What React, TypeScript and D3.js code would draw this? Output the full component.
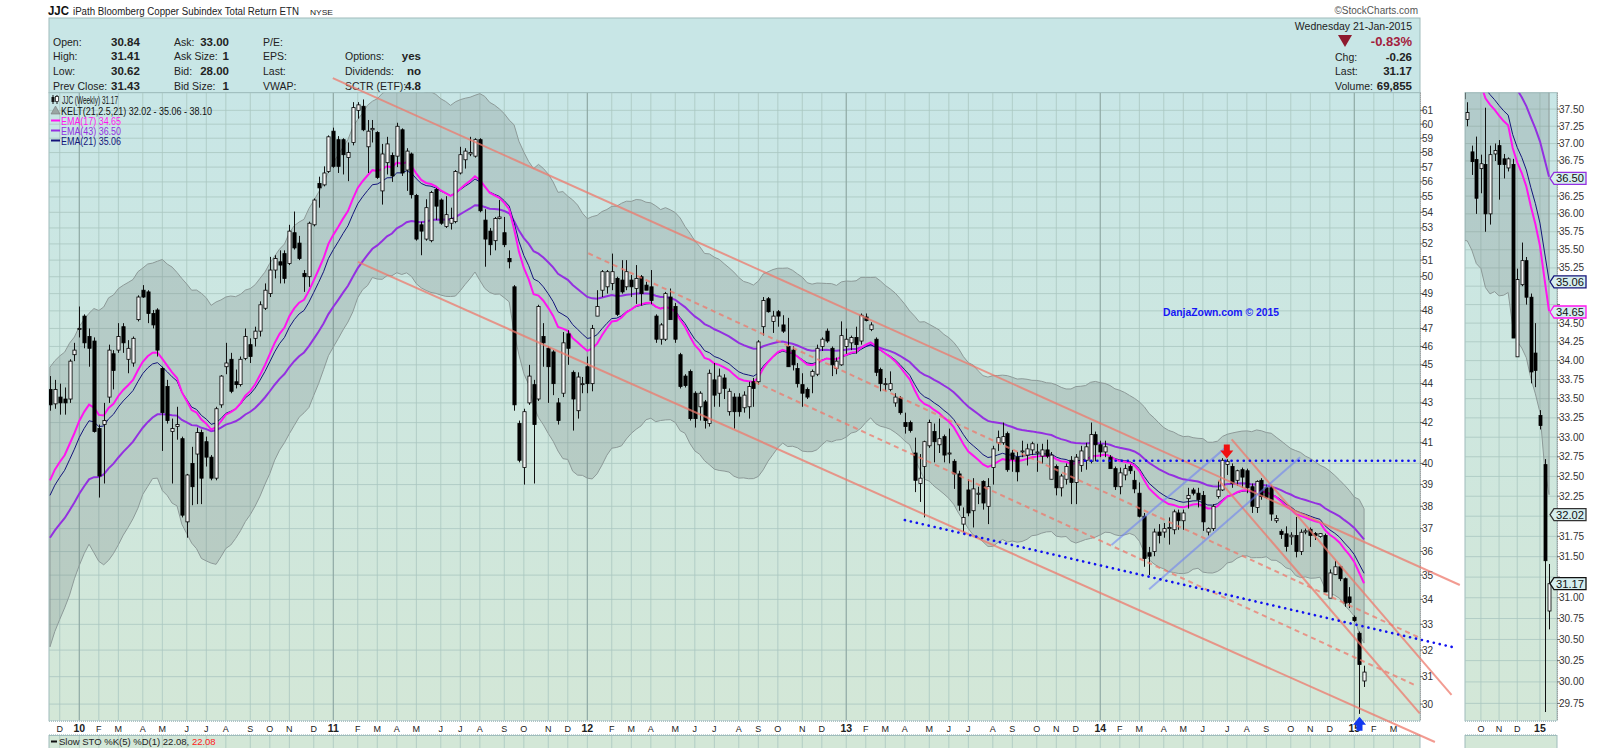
import * as d3 from 'd3';
import React from 'react';

// weekly candles, week of 23-Nov-2009 .. week of 19-Jan-2015
const opens = [
  43.7, 42.95, 43.3, 43.2, 43.2, 45.55, 46.95, 47.7, 46.55, 46.3,
  41.7, 41.9, 43.3, 45.6, 45.8, 47.1, 45.3, 45.1, 47.5, 49.2,
  49.1, 47.85, 48.05, 44.8, 43.85, 41.55, 41.8, 41.2, 37.3, 40.0,
  40.45, 41.5, 41.05, 40.3, 39.3, 42.9, 44.9, 45.3, 44.1, 43.95,
  45.35, 46.1, 46.45, 46.85, 48.15, 49.0, 50.4, 50.9, 51.4, 50.8,
  52.7, 52.05, 50.2, 50.0, 53.2, 55.9, 55.8, 56.7, 59.5, 58.9,
  58.9, 57.65, 58.7, 61.0, 61.3, 58.4, 59.6, 59.4, 55.4, 57.3,
  57.8, 57.75, 59.6, 56.8, 57.9, 55.1, 53.2, 52.3, 52.2, 55.5,
  54.8, 53.1, 53.3, 53.4, 56.6, 57.5, 57.9, 57.75, 58.9, 53.5,
  52.8, 52.2, 53.6, 52.7, 51.1, 49.4, 41.95, 39.8, 43.0, 43.95,
  43.2, 46.55, 45.9, 45.7, 43.0, 43.5, 46.7, 44.6, 42.6, 44.0,
  44.9, 44.0, 47.7, 49.2, 49.4, 49.6, 49.9, 49.8, 49.4, 49.8,
  49.3, 50.0, 49.5, 49.4, 47.7, 46.4, 46.4, 48.8, 48.25, 45.55,
  44.4, 44.65, 43.5, 42.8, 43.05, 41.95, 44.2, 43.5, 44.3, 42.55,
  43.3, 43.3, 42.75, 42.8, 44.1, 44.1, 47.1, 48.7, 47.4, 47.95,
  47.2, 46.0, 45.8, 44.8, 43.95, 43.7, 44.4, 44.5, 46.0, 46.85,
  45.9, 44.8, 45.0, 46.0, 46.2, 46.5, 46.3, 47.65, 46.95, 46.4,
  44.75, 44.0, 43.7, 43.0, 43.25, 42.0, 42.0, 40.5, 39.05, 39.85,
  40.85, 41.55, 40.9, 41.3, 40.5, 40.1, 39.5, 37.2, 38.75, 37.8,
  38.55, 39.15, 38.0, 39.8, 41.0, 41.0, 41.45, 40.5, 40.3, 40.6,
  40.4, 40.65, 40.5, 40.35, 40.65, 39.25, 39.85, 38.85, 39.25, 40.15,
  39.1, 39.9, 40.15, 40.1, 41.4, 40.9, 40.55, 40.3, 39.75, 38.9,
  39.45, 39.85, 39.2, 38.6, 37.55, 35.95, 36.0, 36.85, 36.85, 37.0,
  36.95, 37.7, 37.35, 38.35, 38.75, 38.6, 38.5, 36.85, 37.0, 38.45,
  38.75, 39.95, 39.85, 39.2, 39.7, 39.65, 38.9, 37.95, 39.2, 38.85,
  38.85, 37.35, 36.88, 36.77, 36.64, 36.7, 36.0, 36.85, 36.97, 36.78,
  36.65, 36.7, 34.05, 35.02, 35.35, 34.85, 34.1, 33.28, 32.65, 30.84,
];

const highs = [
  44.4, 44.2, 44.0, 43.8, 45.3, 46.2, 48.25, 47.8, 47.0, 46.5,
  41.9, 43.0, 46.1, 45.8, 47.3, 47.3, 46.35, 46.55, 48.9, 49.5,
  49.2, 48.05, 48.15, 44.9, 44.2, 42.2, 42.8, 41.3, 39.5, 40.8,
  41.75, 41.65, 41.3, 40.4, 42.8, 44.45, 46.2, 45.65, 44.75, 45.45,
  47.0, 46.45, 47.1, 48.55, 49.6, 51.2, 51.3, 51.6, 51.6, 53.2,
  54.05, 52.5, 50.4, 53.4, 54.9, 56.35, 57.05, 59.2, 59.75, 59.15,
  59.0, 58.7, 61.6, 61.6, 61.8, 60.3, 60.3, 59.5, 58.6, 59.1,
  58.0, 60.1, 59.7, 58.3, 58.0, 55.2, 53.4, 54.85, 55.4, 55.6,
  54.9, 55.05, 54.3, 56.8, 58.4, 58.3, 59.1, 59.0, 59.0, 54.2,
  53.0, 53.7, 54.8, 53.7, 51.6, 49.5, 42.1, 42.7, 45.0, 44.2,
  48.35, 47.3, 46.0, 45.8, 43.25, 46.8, 46.9, 44.7, 44.6, 44.35,
  45.45, 47.2, 49.2, 50.4, 50.4, 51.4, 50.0, 51.0, 51.0, 50.1,
  50.7, 50.1, 49.7, 50.4, 47.8, 47.3, 49.1, 49.3, 48.45, 45.65,
  44.5, 44.75, 43.6, 43.6, 43.15, 44.75, 45.1, 44.8, 44.5, 43.75,
  43.5, 43.5, 43.6, 44.1, 44.3, 46.35, 48.8, 48.8, 48.0, 48.05,
  47.75, 47.6, 46.0, 45.1, 44.55, 43.8, 44.75, 46.1, 46.5, 47.0,
  46.0, 45.4, 47.4, 47.0, 46.6, 47.1, 47.85, 47.85, 47.35, 46.5,
  44.85, 44.3, 44.65, 43.5, 43.35, 42.5, 42.1, 41.25, 40.45, 41.1,
  42.15, 41.95, 42.2, 41.4, 41.7, 40.2, 39.65, 37.95, 39.25, 39.3,
  38.9, 39.2, 39.3, 40.85, 41.6, 42.0, 41.55, 40.65, 40.55, 41.1,
  40.95, 41.05, 40.95, 40.95, 41.15, 40.55, 39.95, 39.5, 40.0, 40.35,
  40.45, 40.85, 41.0, 42.0, 41.55, 41.1, 41.1, 40.4, 39.85, 39.8,
  39.95, 39.95, 39.65, 39.1, 37.7, 36.2, 37.0, 37.2, 37.25, 37.5,
  37.85, 37.85, 37.85, 38.85, 38.85, 38.85, 38.7, 37.05, 38.1, 39.15,
  40.25, 40.2, 40.0, 39.7, 39.8, 39.75, 39.05, 39.2, 39.3, 39.0,
  38.95, 37.6, 36.97, 37.1, 36.84, 37.52, 36.97, 37.0, 37.05, 36.85,
  36.8, 36.78, 35.24, 35.6, 35.4, 34.9, 34.5, 33.35, 32.72, 31.41,
];

const lows = [
  42.6, 42.7, 42.4, 42.4, 43.0, 45.2, 46.5, 45.9, 44.9, 41.5,
  38.4, 39.05, 43.0, 43.7, 45.65, 45.65, 44.55, 44.9, 47.4, 48.75,
  47.3, 47.0, 45.45, 40.6, 41.95, 39.05, 41.15, 37.5, 36.6, 38.05,
  38.1, 38.1, 39.85, 39.2, 39.2, 42.75, 44.5, 43.5, 43.75, 43.85,
  45.25, 45.1, 46.0, 46.55, 48.05, 48.8, 49.9, 49.6, 49.6, 50.7,
  51.65, 51.0, 49.1, 49.4, 53.1, 54.3, 55.7, 56.6, 56.95, 56.6,
  56.5, 56.05, 58.5, 60.4, 59.5, 56.6, 58.7, 56.2, 54.5, 56.5,
  56.0, 57.0, 56.4, 55.4, 54.9, 52.2, 51.3, 52.2, 52.1, 53.5,
  53.2, 53.0, 52.9, 53.3, 56.5, 56.9, 57.75, 57.65, 54.0, 50.6,
  51.3, 51.6, 53.55, 51.8, 50.5, 42.6, 40.05, 39.0, 42.9, 39.05,
  43.1, 44.9, 43.0, 43.4, 41.9, 43.3, 45.0, 41.6, 42.2, 43.5,
  43.5, 43.6, 47.7, 48.8, 49.0, 49.2, 47.7, 49.0, 49.2, 48.8,
  48.4, 48.3, 49.2, 48.4, 46.2, 46.1, 46.3, 47.5, 46.2, 43.75,
  43.8, 42.1, 41.75, 42.1, 41.7, 41.8, 42.8, 42.8, 43.2, 42.35,
  41.7, 42.3, 42.5, 42.2, 42.8, 43.95, 46.6, 47.9, 46.75, 47.1,
  46.75, 44.9, 44.7, 43.8, 42.8, 43.2, 43.5, 44.4, 45.75, 46.2,
  44.4, 44.5, 44.95, 45.6, 45.8, 45.6, 46.1, 47.4, 46.85, 44.4,
  43.6, 43.6, 43.6, 42.8, 42.4, 41.45, 41.5, 38.65, 38.2, 37.5,
  40.75, 40.05, 40.5, 40.05, 40.0, 38.8, 37.8, 36.85, 37.55, 37.05,
  38.1, 37.85, 37.2, 39.0, 40.6, 40.9, 39.6, 39.6, 39.15, 40.3,
  39.9, 40.4, 39.6, 40.0, 40.25, 39.25, 38.5, 38.45, 39.0, 38.1,
  38.1, 39.6, 39.7, 40.0, 40.1, 40.3, 40.3, 39.75, 38.75, 38.55,
  39.2, 39.5, 38.6, 37.5, 35.35, 35.0, 35.8, 36.35, 36.6, 36.3,
  36.75, 36.95, 36.95, 37.9, 38.5, 37.95, 36.9, 36.7, 36.9, 38.35,
  38.7, 39.45, 38.85, 38.95, 38.85, 38.6, 37.7, 37.7, 38.3, 38.35,
  37.35, 37.25, 36.55, 36.0, 36.29, 35.75, 35.85, 36.75, 36.2, 36.5,
  36.6, 34.3, 34.05, 35.0, 34.75, 33.7, 33.65, 33.1, 29.65, 30.62,
];

const closes = [
  42.9, 43.7, 43.0, 43.0, 45.2, 45.8, 47.0, 46.2, 45.9, 41.55,
  39.4, 42.1, 45.8, 44.7, 46.55, 46.2, 45.9, 46.45, 48.8, 48.8,
  47.85, 47.2, 45.8, 42.5, 42.1, 41.7, 41.9, 37.6, 39.45, 38.9,
  41.5, 39.3, 40.3, 39.3, 42.7, 44.4, 45.1, 43.6, 43.95, 45.3,
  46.55, 45.45, 46.85, 48.35, 49.2, 50.4, 51.1, 50.7, 49.9, 52.8,
  51.75, 51.1, 50.0, 53.3, 54.8, 55.6, 56.6, 59.1, 57.05, 57.05,
  57.85, 58.0, 61.2, 61.4, 59.6, 59.5, 59.7, 56.3, 57.9, 58.6,
  56.4, 59.85, 56.6, 58.1, 55.15, 52.3, 52.8, 54.3, 55.3, 54.4,
  53.3, 53.85, 53.6, 56.7, 57.85, 58.1, 58.0, 58.9, 54.1, 52.3,
  51.95, 53.6, 53.7, 51.95, 50.9, 42.9, 40.15, 42.55, 44.4, 41.9,
  48.25, 46.2, 44.9, 44.0, 42.1, 46.2, 45.9, 43.2, 44.35, 44.0,
  44.0, 47.0, 48.25, 50.3, 50.3, 50.3, 47.8, 49.1, 50.3, 49.4,
  49.9, 49.0, 49.2, 48.6, 46.4, 47.2, 49.0, 47.5, 46.4, 43.85,
  43.9, 42.2, 42.2, 43.5, 42.1, 44.55, 43.4, 44.4, 43.75, 43.6,
  42.55, 42.55, 43.4, 43.85, 43.75, 46.25, 48.6, 47.95, 47.7, 47.7,
  46.85, 44.9, 45.0, 44.0, 43.5, 43.3, 44.65, 45.9, 46.4, 46.3,
  45.0, 45.2, 46.6, 46.4, 46.5, 46.1, 47.75, 47.45, 47.2, 44.6,
  44.0, 44.0, 44.0, 43.3, 42.5, 41.8, 41.6, 39.2, 39.3, 41.05,
  42.0, 41.05, 41.2, 40.4, 40.5, 39.5, 38.05, 37.5, 37.7, 38.8,
  38.6, 38.15, 38.9, 40.7, 41.25, 41.3, 39.7, 40.2, 39.6, 40.6,
  40.7, 40.95, 40.55, 40.65, 40.35, 40.4, 38.85, 39.4, 39.85, 39.1,
  40.3, 40.6, 40.8, 41.4, 40.9, 40.55, 40.8, 39.75, 38.9, 39.55,
  39.75, 39.65, 38.8, 37.55, 35.7, 35.8, 36.85, 36.7, 37.0, 37.05,
  37.75, 37.35, 37.7, 38.5, 38.6, 38.3, 37.3, 37.0, 38.0, 38.75,
  40.15, 40.1, 39.05, 39.65, 39.35, 38.85, 38.0, 39.15, 38.45, 38.4,
  37.65, 37.45, 36.74, 36.22, 36.71, 36.0, 36.84, 36.9, 36.7, 36.7,
  36.78, 34.3, 35.09, 35.35, 34.85, 33.85, 33.87, 33.15, 31.45, 31.17,
];

// indicator values at the first visible week (history before the window)
const emaSeeds = { e17: 39.2, e21: 38.5, e43: 36.6 };
const atrSeed = 2.55;

const firstWeek = new Date(2009, 10, 23);
const monthLetters = ['J', 'F', 'M', 'A', 'M', 'J', 'J', 'A', 'S', 'O', 'N', 'D'];
const priceTicks = d3.range(30, 62);
const zoomTicks = d3.range(119, 151).map((k) => k / 4);

// annotation lines: [weekIndex, price] pairs
const channelLines = [
  [[57.9, 63.4], [288.6, 34.59]],
  [[63.05, 50.89], [283.5, 28.67]],
  [[241.9, 41.17], [286.9, 30.33]],
  [[239.2, 39.22], [280.4, 29.67]],
];
const dashedLines = [
  [[110.2, 51.42], [280.4, 32.47]],
  [[144.3, 44.09], [279.4, 30.69]],
];
const dottedLines = [
  [[211.9, 40.13], [280.4, 40.13]],
  [[175.0, 37.38], [287.0, 32.12]],
];
const thinBlueLines = [
  [[217.3, 36.28], [240.9, 40.81]],
  [[225.0, 34.41], [255.9, 40.29]],
];
const sellMark = [240.9, 40.24];
const buyMarkWeek = 268;

const headerLeft = [
  ['Open:', '30.84', 'Ask:', '33.00', 'P/E:', '', '', ''],
  ['High:', '31.41', 'Ask Size:', '1', 'EPS:', '', 'Options:', 'yes'],
  ['Low:', '30.62', 'Bid:', '28.00', 'Last:', '', 'Dividends:', 'no'],
  ['Prev Close:', '31.43', 'Bid Size:', '1', 'VWAP:', '', 'SCTR (ETF):', '4.8'],
];
const headerRight = [
  ['Chg:', '-0.26'],
  ['Last:', '31.17'],
  ['Volume:', '69,855'],
];

function ema(values: number[], period: number, seed: number) {
  const k = 2 / (period + 1);
  let prev = seed;
  return values.map((v, i) => {
    prev = i === 0 ? seed : prev + k * (v - prev);
    return prev;
  });
}

function atr(period: number, seed: number) {
  let prev = seed;
  return closes.map((c, i) => {
    if (i === 0) return prev;
    const pc = closes[i - 1];
    const tr = Math.max(highs[i] - lows[i], Math.abs(highs[i] - pc), Math.abs(lows[i] - pc));
    prev = (prev * (period - 1) + tr) / period;
    return prev;
  });
}

const FONT = "'Liberation Sans', Arial, sans-serif";
const PL = 49, PR = 1420, PT = 92.7, PB = 720.7;
const ZL = 1465, ZR = 1557;

const App: React.FC = () => {
  const x = d3.scaleLinear().domain([-0.2, 280.45]).range([PL, PR]);
  const y = d3.scaleLog().domain([29.41, 62.3]).range([PB, PT]);
  const xz = d3.scaleLinear().domain([250.5, 270.75]).range([ZL, ZR]);
  const yz = d3.scaleLog().domain([29.55, 37.74]).range([PB, PT]);

  const e17 = ema(closes, 17, emaSeeds.e17);
  const e21 = ema(closes, 21, emaSeeds.e21);
  const e43 = ema(closes, 43, emaSeeds.e43);
  const a21 = atr(21, atrSeed);
  const upper = e21.map((m, i) => m + 2.5 * a21[i]);
  const lower = e21.map((m, i) => m - 2.5 * a21[i]);
  const idx = d3.range(closes.length);

  const weekDate = (i: number) => d3.timeDay.offset(firstWeek, 7 * i);
  const monthTicks = d3.range(1, 278).filter((i) => weekDate(i).getMonth() !== weekDate(i - 1).getMonth());
  const tickLabel = (i: number) => {
    const d = weekDate(i);
    return d.getMonth() === 0 ? d3.timeFormat('%y')(d) : monthLetters[d.getMonth()];
  };
  const zoomMonthTicks = monthTicks.filter((i) => i > 251 && i <= 270);

  const band = (xs: d3.ScaleLinear<number, number>, ys: d3.ScaleLogarithmic<number, number>) =>
    d3.area<number>().x((i) => xs(i)).y0((i) => ys(lower[i])).y1((i) => ys(upper[i]))(idx) || '';
  const lineOf = (vals: number[], xs: d3.ScaleLinear<number, number>, ys: d3.ScaleLogarithmic<number, number>) =>
    d3.line<number>().x((i) => xs(i)).y((i) => ys(vals[i]))(idx) || '';

  const candles = (xs: d3.ScaleLinear<number, number>, ys: d3.ScaleLogarithmic<number, number>, bw: number) =>
    idx.map((i) => {
      const o = opens[i], c = closes[i];
      const hi = Math.max(highs[i], o, c), lo = Math.min(lows[i], o, c);
      const cx = Math.round(xs(i)) + 0.5;
      const top = ys(Math.max(o, c)), bot = ys(Math.min(o, c));
      const up = c >= o;
      return (
        <g key={i}>
          <line x1={cx} x2={cx} y1={ys(hi)} y2={ys(lo)} stroke="#111" strokeWidth={1} />
          <rect x={cx - bw / 2} y={top} width={bw} height={Math.max(1, bot - top)}
            fill={up ? '#f4f6f6' : '#000'} stroke="#000" strokeWidth={0.8} />
        </g>
      );
    });

  const seg = (l: number[][]) => ({ x1: x(l[0][0]), y1: y(l[0][1]), x2: x(l[1][0]), y2: y(l[1][1]) });

  const tagValues: [number, string, string][] = [
    [36.5, '#9430e0', 'e43'],
    [35.06, '#14147a', 'e21'],
    [34.65, '#ff14f0', 'e17'],
    [32.02, '#333', 'kl'],
    [31.17, '#111', 'last'],
  ];
  const tag = (v: number, color: string, key: string) => {
    const ty = yz(v);
    return (
      <g key={key}>
        <path d={`M${ZR - 7},${ty} L${ZR - 3},${ty - 6} L${ZR + 29},${ty - 6} L${ZR + 29},${ty + 6} L${ZR - 3},${ty + 6} Z`}
          fill="#d6eeee" stroke={color} strokeWidth={1.3} />
        <text x={ZR - 1} y={ty + 4} fontSize={10.5} fill="#111" textLength={28} lengthAdjust="spacingAndGlyphs">{v.toFixed(2)}</text>
      </g>
    );
  };
  // tick labels hidden behind a value tag
  const zoomLabelTicks = zoomTicks.filter((p) => tagValues.every(([v]) => Math.abs(yz(p) - yz(v)) > 9));

  const sx = x(sellMark[0]), sy = y(sellMark[1]);
  const bx = Math.round(x(buyMarkWeek)) + 0.5;

  return (
    <svg width={1600} height={748} style={{ position: 'absolute', left: 0, top: 0, background: '#fff' }} fontFamily={FONT}>
      <defs>
        <linearGradient id="bg" x1="0" y1="0" x2="0" y2="1">
          <stop offset="0" stopColor="#c8e6e6" />
          <stop offset="1" stopColor="#d3e7d7" />
        </linearGradient>
        <clipPath id="main"><rect x={PL} y={PT} width={PR - PL} height={PB - PT} /></clipPath>
        <clipPath id="zoom"><rect x={ZL} y={PT} width={ZR - ZL} height={PB - PT} /></clipPath>
      </defs>

      {/* title */}
      <text x={48} y={15} fontSize={13} fontWeight="bold" fill="#111" textLength={21} lengthAdjust="spacingAndGlyphs">JJC</text>
      <text x={73} y={15} fontSize={10} fill="#222" textLength={226} lengthAdjust="spacingAndGlyphs">iPath Bloomberg Copper Subindex Total Return ETN</text>
      <text x={310} y={14.5} fontSize={8} fill="#222" textLength={23} lengthAdjust="spacingAndGlyphs">NYSE</text>
      <text x={1418} y={14} fontSize={10} fill="#555" textAnchor="end">©StockCharts.com</text>

      {/* header box */}
      <rect x={PL} y={18} width={PR - PL} height={PT - 18} fill="#c8e6e6" stroke="#9fbcbc" />
      {headerLeft.map((row, r) => {
        const by = 45.5 + r * 14.7;
        return (
          <g key={r} fontSize={10.5} fill="#222">
            <text x={53} y={by}>{row[0]}</text>
            <text x={111} y={by} fontWeight="bold" fontSize={11.5}>{row[1]}</text>
            <text x={174} y={by}>{row[2]}</text>
            <text x={229} y={by} fontWeight="bold" fontSize={11.5} textAnchor="end">{row[3]}</text>
            <text x={263} y={by}>{row[4]}</text>
            <text x={345} y={by}>{row[6]}</text>
            <text x={421} y={by} fontWeight="bold" fontSize={11.5} textAnchor="end">{row[7]}</text>
          </g>
        );
      })}
      <text x={1412} y={30} fontSize={10.5} fill="#222" textAnchor="end">Wednesday  21-Jan-2015</text>
      <path d="M1338,35 L1352,35 L1345,47 Z" fill="#8e1a2e" />
      <text x={1412} y={46} fontSize={13} fontWeight="bold" fill="#a3203c" textAnchor="end">-0.83%</text>
      {headerRight.map((row, r) => (
        <g key={r} fontSize={10.5} fill="#222">
          <text x={1335} y={60.5 + r * 14.7}>{row[0]}</text>
          <text x={1412} y={60.5 + r * 14.7} fontWeight="bold" fontSize={11.5} textAnchor="end">{row[1]}</text>
        </g>
      ))}

      {/* main plot */}
      <rect x={PL} y={PT} width={PR - PL} height={PB - PT} fill="url(#bg)" stroke="#9fbcbc" />
      <g clipPath="url(#main)">
        {priceTicks.map((p) => (
          <line key={p} x1={PL} x2={PR} y1={y(p)} y2={y(p)} stroke="#a9c6c0" strokeWidth={0.8} />
        ))}
        {monthTicks.map((i) => (
          <line key={i} x1={x(i)} x2={x(i)} y1={PT} y2={PB}
            stroke={weekDate(i).getMonth() === 0 ? '#8fa9a4' : '#aac6c0'} strokeWidth={weekDate(i).getMonth() === 0 ? 1.2 : 0.8} />
        ))}
        <path d={band(x, y)} fill="#6e7c7a" fillOpacity={0.25} stroke="#8d9a98" strokeWidth={1} />
        <path d={lineOf(e43, x, y)} fill="none" stroke="#9430e0" strokeWidth={2} />
        <path d={lineOf(e21, x, y)} fill="none" stroke="#14147a" strokeWidth={1} />
        <path d={lineOf(e17, x, y)} fill="none" stroke="#ff14f0" strokeWidth={2} />
        {candles(x, y, 3.2)}
      </g>
      <line x1={PR + 0.5} x2={PR + 0.5} y1={PT} y2={PB} stroke="#888" strokeDasharray="1,1" />
      {priceTicks.map((p) => (
        <g key={p}>
          <line x1={PR} x2={PR + 3} y1={y(p)} y2={y(p)} stroke="#666" />
          <text x={PR + 2} y={y(p) + 3.5} fontSize={10} fill="#333">{p}</text>
        </g>
      ))}

      {/* legend */}
      <g fontSize={10}>
        <line x1={53} x2={53} y1={95} y2={104} stroke="#111" />
        <rect x={51.5} y={97} width={3} height={5} fill="#111" />
        <line x1={57} x2={57} y1={95} y2={104} stroke="#111" />
        <rect x={55.5} y={96.5} width={3} height={5} fill="#fff" stroke="#111" strokeWidth={0.7} />
        <text x={62} y={104} textLength={56} lengthAdjust="spacingAndGlyphs" fill="#111">JJC (Weekly) 31.17</text>
        <path d="M51,114 L55.5,106 L60,114 Z" fill="#9aa6a4" stroke="#777" strokeWidth={0.6} />
        <text x={61} y={114.5} textLength={151} lengthAdjust="spacingAndGlyphs" fill="#111">KELT(21,2.5,21) 32.02 - 35.06 - 38.10</text>
        <line x1={51} x2={60} y1={120.5} y2={120.5} stroke="#ff14f0" strokeWidth={2} />
        <text x={61} y={124.5} textLength={60} lengthAdjust="spacingAndGlyphs" fill="#ff14f0">EMA(17) 34.65</text>
        <line x1={51} x2={60} y1={130.5} y2={130.5} stroke="#9430e0" strokeWidth={2} />
        <text x={61} y={134.5} textLength={60} lengthAdjust="spacingAndGlyphs" fill="#9430e0">EMA(43) 36.50</text>
        <line x1={51} x2={60} y1={140.5} y2={140.5} stroke="#14147a" strokeWidth={2} />
        <text x={61} y={144.5} textLength={60} lengthAdjust="spacingAndGlyphs" fill="#14147a">EMA(21) 35.06</text>
      </g>

      <text x={1163} y={316} fontSize={11.5} fontWeight="bold" fill="#1616f5" textLength={116} lengthAdjust="spacingAndGlyphs">
        DanjaZown.com © 2015
      </text>

      {/* x-axis strip */}
      <rect x={PL} y={PB} width={PR - PL} height={14.3} fill="#fff" />
      <line x1={PL} x2={PR} y1={PB + 0.5} y2={PB + 0.5} stroke="#8aa" strokeDasharray="1,1" />
      <line x1={PL} x2={PR} y1={735} y2={735} stroke="#8aa" strokeDasharray="1,1" />
      {monthTicks.map((i) => {
        const yr = weekDate(i).getMonth() === 0;
        return (
          <text key={i} x={x(i)} y={732} fontSize={yr ? 10.5 : 9} fontWeight={yr ? 'bold' : 'normal'}
            textAnchor="middle" fill="#222">{tickLabel(i)}</text>
        );
      })}

      {/* lower indicator panel (top only visible) */}
      <rect x={PL} y={735.5} width={PR - PL} height={20} fill="#d3e7d7" stroke="#9fbcbc" />
      {monthTicks.map((i) => (
        <line key={i} x1={x(i)} x2={x(i)} y1={736} y2={748} stroke="#aac6c0" strokeWidth={0.8} />
      ))}
      <line x1={51} x2={57} y1={741.5} y2={741.5} stroke="#111" strokeWidth={2} />
      <text x={59} y={745} fontSize={9.5} fill="#222">Slow STO %K(5) %D(1) 22.08, <tspan fill="#ff2020">22.08</tspan></text>

      {/* annotations */}
      {channelLines.map((l, k) => (
        <line key={k} {...seg(l)} stroke="#ee7a6c" strokeOpacity={0.75} strokeWidth={2} />
      ))}
      {dashedLines.map((l, k) => (
        <line key={k} {...seg(l)} stroke="#ee7a6c" strokeOpacity={0.75} strokeWidth={2} strokeDasharray="5,4" />
      ))}
      {thinBlueLines.map((l, k) => (
        <line key={k} {...seg(l)} stroke="#6a7cf5" strokeOpacity={0.55} strokeWidth={2} />
      ))}
      {dottedLines.map((l, k) => (
        <line key={k} {...seg(l)} stroke="#1010f0" strokeWidth={2.6} strokeDasharray="0.1,6" strokeLinecap="round" />
      ))}
      <path d={`M${sx - 3},${sy - 14} L${sx + 3},${sy - 14} L${sx + 3},${sy - 8} L${sx + 6.5},${sy - 8} L${sx},${sy} L${sx - 6.5},${sy - 8} L${sx - 3},${sy - 8} Z`}
        fill="#f01010" />
      <path d={`M${bx},${PB - 4} L${bx + 6.5},${PB + 4} L${bx + 3},${PB + 4} L${bx + 3},${PB + 10} L${bx - 3},${PB + 10} L${bx - 3},${PB + 4} L${bx - 6.5},${PB + 4} Z`}
        fill="#1238f0" />

      {/* right zoom panel */}
      <rect x={ZL} y={PT} width={ZR - ZL} height={PB - PT} fill="url(#bg)" stroke="#9fbcbc" />
      <g clipPath="url(#zoom)">
        {zoomTicks.map((p) => (
          <line key={p} x1={ZL} x2={ZR} y1={yz(p)} y2={yz(p)} stroke="#a9c6c0" strokeWidth={0.8} />
        ))}
        {zoomMonthTicks.map((i) => (
          <line key={i} x1={xz(i)} x2={xz(i)} y1={PT} y2={PB} stroke="#aac6c0" strokeWidth={0.8} />
        ))}
        <path d={band(xz, yz)} fill="#6e7c7a" fillOpacity={0.25} stroke="#8d9a98" strokeWidth={1} />
        <path d={lineOf(e43, xz, yz)} fill="none" stroke="#9430e0" strokeWidth={2} />
        <path d={lineOf(e21, xz, yz)} fill="none" stroke="#14147a" strokeWidth={1} />
        <path d={lineOf(e17, xz, yz)} fill="none" stroke="#ff14f0" strokeWidth={2} />
        {candles(xz, yz, 3)}
      </g>
      <line x1={ZR + 0.5} x2={ZR + 0.5} y1={PT} y2={PB} stroke="#888" strokeDasharray="1,1" />
      {zoomTicks.map((p) => (
        <line key={p} x1={ZR} x2={ZR + 3} y1={yz(p)} y2={yz(p)} stroke="#666" />
      ))}
      {zoomLabelTicks.map((p) => (
        <text key={p} x={ZR + 2} y={yz(p) + 3.5} fontSize={10} fill="#333">{p.toFixed(2)}</text>
      ))}
      {tagValues.map(([v, c, k]) => tag(v, c, k))}
      <rect x={ZL} y={PB} width={ZR - ZL} height={14.3} fill="#fff" />
      <line x1={ZL} x2={ZR} y1={PB + 0.5} y2={PB + 0.5} stroke="#8aa" strokeDasharray="1,1" />
      <line x1={ZL} x2={ZR} y1={735} y2={735} stroke="#8aa" strokeDasharray="1,1" />
      {zoomMonthTicks.map((i) => {
        const yr = weekDate(i).getMonth() === 0;
        return (
          <text key={i} x={xz(i)} y={732} fontSize={yr ? 10.5 : 9} fontWeight={yr ? 'bold' : 'normal'}
            textAnchor="middle" fill="#222">{tickLabel(i)}</text>
        );
      })}
      <rect x={ZL} y={735.5} width={ZR - ZL} height={20} fill="#d3e7d7" stroke="#9fbcbc" />
    </svg>
  );
};

export default App;
